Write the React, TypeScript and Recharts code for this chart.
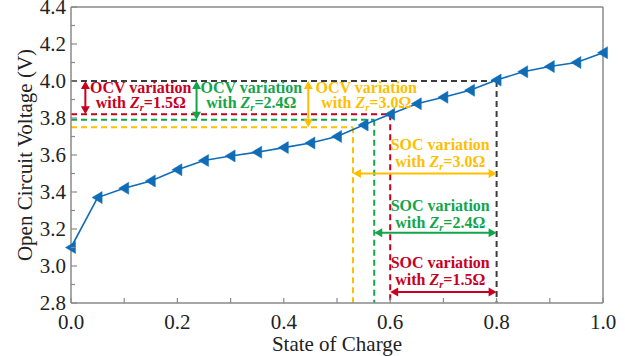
import React from 'react';
import { LineChart, Line, XAxis, YAxis, ReferenceLine, ReferenceDot, Label } from 'recharts';

// ---- data ----
const socValues = [0, 0.05, 0.1, 0.15, 0.2, 0.25, 0.3, 0.35, 0.4, 0.45, 0.5, 0.55, 0.6, 0.65, 0.7, 0.75, 0.8, 0.85, 0.9, 0.95, 1.0];
const ocvValues = [3.10, 3.37, 3.42, 3.46, 3.52, 3.57, 3.595, 3.615, 3.64, 3.665, 3.70, 3.762, 3.82, 3.877, 3.912, 3.95, 4.005, 4.05, 4.078, 4.10, 4.153];

const xTicks = [0, 0.1, 0.2, 0.3, 0.4, 0.5, 0.6, 0.7, 0.8, 0.9, 1.0];
const yTicks = [2.8, 2.9, 3.0, 3.1, 3.2, 3.3, 3.4, 3.5, 3.6, 3.7, 3.8, 3.9, 4.0, 4.1, 4.2, 4.3, 4.4];
const xTickLabels = ['0.0', '0.2', '0.4', '0.6', '0.8', '1.0'];
const yTickLabels = ['2.8', '3.0', '3.2', '3.4', '3.6', '3.8', '4.0', '4.2', '4.4'];

// operating window
const socUpper = 0.8;
const ocvUpper = 4.0;
const resistanceLabels = ['1.5Ω', '2.4Ω', '3.0Ω'];
const socLower = [0.60, 0.57, 0.53];
const ocvLower = [3.82, 3.79, 3.75];

// annotation placements (data units)
const ocvArrowSoc = [0.027, 0.236, 0.446];
const ocvTextSoc = [0.131, 0.339, 0.555];
const ocvTextOcv = [3.935, 3.935, 3.935];
const socArrowOcv = [2.86, 3.18, 3.50];
const socTextSoc = [0.694, 0.694, 0.694];
const socTextOcv = [2.99, 3.30, 3.625];

const COLORS = ['#c8001e', '#14a54b', '#ffbf00'];
const BLUE = '#0f6cb6';
const DARK = '#3c3c3c';
const AXIS = '#8a8a8a';
const FONT = '"Liberation Serif", "Times New Roman", serif';

const data = socValues.map((s, i) => ({ soc: s, ocv: ocvValues[i] }));

function findLabel(v: number, labels: string[]) {
  return labels.find((l) => Math.abs(parseFloat(l) - v) < 1e-6);
}

function XTick(props: any) {
  const { x, y, payload } = props;
  const lbl = findLabel(payload.value, xTickLabels);
  return (
    <g>
      <line x1={x} x2={x} y1={y} y2={y - 5} stroke={AXIS} strokeWidth={1.2} />
      {lbl && (
        <text x={x} y={y + 26} textAnchor="middle" style={{ fontFamily: FONT, fontSize: 21 }} fill="#222">
          {lbl}
        </text>
      )}
    </g>
  );
}

function YTick(props: any) {
  const { x, y, payload } = props;
  const lbl = findLabel(payload.value, yTickLabels);
  return (
    <g>
      <line x1={x} x2={x + (lbl ? 6 : 4)} y1={y} y2={y} stroke={AXIS} strokeWidth={1.2} />
      {lbl && (
        <text x={x - 5} y={y + 7} textAnchor="end" style={{ fontFamily: FONT, fontSize: 21 }} fill="#222">
          {lbl}
        </text>
      )}
    </g>
  );
}

function TriangleDot(props: any) {
  const { cx, cy } = props;
  if (cx == null || cy == null) return null;
  return (
    <polygon
      points={`${cx - 5.5},${cy} ${cx + 4.5},${cy - 6} ${cx + 4.5},${cy + 6}`}
      fill={BLUE}
      stroke={BLUE}
      strokeWidth={0.5}
    />
  );
}

function makeArrow(color: string) {
  return (props: any) => {
    const { x1, y1, x2, y2 } = props;
    const dx = x2 - x1;
    const dy = y2 - y1;
    const len = Math.hypot(dx, dy) || 1;
    const ux = dx / len;
    const uy = dy / len;
    const L = 8;
    const W = 4.5;
    const head = (tx: number, ty: number, dx2: number, dy2: number) =>
      `${tx},${ty} ${tx - dx2 * L - dy2 * W},${ty - dy2 * L + dx2 * W} ${tx - dx2 * L + dy2 * W},${ty - dy2 * L - dx2 * W}`;
    return (
      <g>
        <line x1={x1 + ux * L * 0.8} y1={y1 + uy * L * 0.8} x2={x2 - ux * L * 0.8} y2={y2 - uy * L * 0.8} stroke={color} strokeWidth={2} />
        <polygon points={head(x2, y2, ux, uy)} fill={color} />
        <polygon points={head(x1, y1, -ux, -uy)} fill={color} />
      </g>
    );
  };
}

function makeText(kind: string, res: string, color: string, gap: number) {
  return (props: any) => {
    const { cx, cy } = props;
    const st = { fontFamily: FONT, fontSize: 16, fontWeight: 700 as const };
    return (
      <g>
        <text x={cx} y={cy} textAnchor="middle" style={st} fill={color}>
          {kind} variation
        </text>
        <text x={cx} y={cy + gap} textAnchor="middle" style={st} fill={color}>
          with <tspan fontStyle="italic">Z</tspan>
          <tspan fontStyle="italic" fontSize={10.5} dy={3}>r</tspan>
          <tspan dy={-3}>={res}</tspan>
        </text>
      </g>
    );
  };
}

export default function App() {
  return (
    <div style={{ position: 'absolute', left: 0, top: 0, width: 625, height: 356, background: '#fff' }}>
      <LineChart width={625} height={356} data={data} margin={{ top: 7, right: 22, bottom: 0, left: 0 }}>
        <XAxis
          dataKey="soc"
          type="number"
          domain={[0, 1]}
          ticks={xTicks}
          interval={0}
          tickSize={0}
          tickMargin={0}
          tick={<XTick />}
          height={53}
          stroke={AXIS}
          strokeWidth={1.5}
        >
          <Label
            content={(p: any) => {
              const vb = p.viewBox;
              return (
                <text x={vb.x + vb.width / 2} y={vb.y + 48} textAnchor="middle" style={{ fontFamily: FONT, fontSize: 21 }} fill="#222">
                  State of Charge
                </text>
              );
            }}
          />
        </XAxis>
        <YAxis
          type="number"
          domain={[2.8, 4.4]}
          ticks={yTicks}
          interval={0}
          tickSize={0}
          tickMargin={0}
          tick={<YTick />}
          width={71}
          stroke={AXIS}
          strokeWidth={1.5}
          allowDataOverflow
        >
          <Label
            content={(p: any) => {
              const vb = p.viewBox;
              const cx = vb.x + 25;
              const cy = vb.y + vb.height / 2;
              return (
                <text x={cx} y={cy} transform={`rotate(-90 ${cx} ${cy})`} textAnchor="middle" dominantBaseline="central" style={{ fontFamily: FONT, fontSize: 21 }} fill="#222">
                  Open Circuit Voltage (V)
                </text>
              );
            }}
          />
        </YAxis>

        {/* frame */}
        <ReferenceLine y={4.4} stroke={AXIS} strokeWidth={1.5} />
        <ReferenceLine x={1.0} stroke={AXIS} strokeWidth={1.5} />

        {/* dashed guides */}
        <ReferenceLine segment={[{ x: 0, y: ocvUpper }, { x: socUpper, y: ocvUpper }]} stroke={DARK} strokeWidth={2} strokeDasharray="6 4" />
        <ReferenceLine segment={[{ x: socUpper, y: ocvUpper }, { x: socUpper, y: 2.8 }]} stroke={DARK} strokeWidth={2} strokeDasharray="6 4" />
        {socLower.map((s, i) => (
          <ReferenceLine key={`h${i}`} segment={[{ x: 0, y: ocvLower[i] }, { x: s, y: ocvLower[i] }]} stroke={COLORS[i]} strokeWidth={2} strokeDasharray="6 4" />
        ))}
        {socLower.map((s, i) => (
          <ReferenceLine key={`v${i}`} segment={[{ x: s, y: ocvLower[i] }, { x: s, y: 2.8 }]} stroke={COLORS[i]} strokeWidth={2} strokeDasharray="6 4" />
        ))}

        {/* arrows */}
        {socLower.map((s, i) => (
          <ReferenceLine key={`oa${i}`} segment={[{ x: ocvArrowSoc[i], y: ocvUpper }, { x: ocvArrowSoc[i], y: ocvLower[i] }]} shape={makeArrow(COLORS[i])} />
        ))}
        {socLower.map((s, i) => (
          <ReferenceLine key={`sa${i}`} segment={[{ x: s, y: socArrowOcv[i] }, { x: socUpper, y: socArrowOcv[i] }]} shape={makeArrow(COLORS[i])} />
        ))}

        {/* texts */}
        {resistanceLabels.map((r, i) => (
          <ReferenceDot key={`ot${i}`} x={ocvTextSoc[i]} y={ocvTextOcv[i]} r={0} shape={makeText('OCV', r, COLORS[i], 15)} />
        ))}
        {resistanceLabels.map((r, i) => (
          <ReferenceDot key={`st${i}`} x={socTextSoc[i]} y={socTextOcv[i]} r={0} shape={makeText('SOC', r, COLORS[i], 17)} />
        ))}

        <Line dataKey="ocv" stroke={BLUE} strokeWidth={1.6} dot={<TriangleDot />} isAnimationActive={false} />
      </LineChart>
    </div>
  );
}
